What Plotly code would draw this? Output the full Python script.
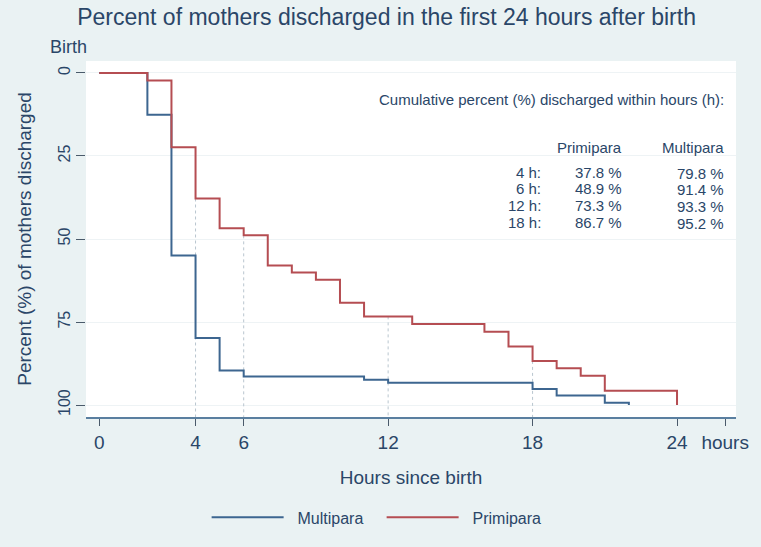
import plotly.graph_objects as go

# ---- data ----
hours_multi = [0, 2, 3, 4, 5, 6, 11, 12, 18, 19, 21, 22]
pct_multi = [0, 12.6, 55.0, 79.8, 89.6, 91.4, 92.4, 93.3, 95.2, 97.1, 99.3, 100]

hours_primi = [0, 2, 3, 4, 5, 6, 7, 8, 9, 10, 11, 13, 16, 17, 18, 19, 20, 21, 24]
pct_primi = [0, 2.3, 22.4, 37.8, 46.8, 48.9, 58.0, 60.1, 62.3, 69.2, 73.3, 75.6,
             77.9, 82.4, 86.7, 88.9, 91.2, 95.7, 100]

table_hours = [4, 6, 12, 18]
table_primi = [37.8, 48.9, 73.3, 86.7]
table_multi = [79.8, 91.4, 93.3, 95.2]

x_tickvals = [0, 4, 6, 12, 18, 24, 26]
x_ticktext = ["0", "4", "6", "12", "18", "24", "hours"]
y_tickvals = [0, 25, 50, 75, 100]

BLUE = "#3d6690"
RED = "#b54d52"
TXT = "#2a4668"
BG = "#eaf2f3"
FONT = "Liberation Sans, Arial, sans-serif"

# plot-area pixel frame
L, R, T, B = 86, 738, 61, 419
W, H = 761, 547

fig = go.Figure()

# dotted reference lines at table hours, from primipara value down to axis
for h, p in zip(table_hours, table_primi):
    fig.add_trace(go.Scatter(x=[h, h], y=[p, 103.6], mode="lines",
                             line=dict(color="#b9c6cf", width=1, dash="dot"),
                             showlegend=False, hoverinfo="skip"))

fig.add_trace(go.Scatter(x=hours_multi, y=pct_multi, mode="lines",
                         name="\u00a0\u00a0Multipara",
                         line=dict(color=BLUE, width=2, shape="hv")))
fig.add_trace(go.Scatter(x=hours_primi, y=pct_primi, mode="lines",
                         name="\u00a0\u00a0Primipara",
                         line=dict(color=RED, width=2, shape="hv")))

TF = dict(size=15, color=TXT, family=FONT)
ann = []
ann.append(dict(x=26.05, y=8.1, text="Cumulative percent (%) discharged within hours (h):",
                xanchor="right", yanchor="middle", showarrow=False, font=TF))
ann.append(dict(x=21.8, y=22.5, text="Primipara", xanchor="right", yanchor="middle",
                showarrow=False, font=TF))
ann.append(dict(x=26.05, y=22.5, text="Multipara", xanchor="right", yanchor="middle",
                showarrow=False, font=TF))
for i, (h, p, m) in enumerate(zip(table_hours, table_primi, table_multi)):
    yy = 29.9 + 5.0 * i
    ann.append(dict(x=18.45, y=yy, text=f"{h} h:", xanchor="right", yanchor="middle",
                    showarrow=False, font=TF))
    ann.append(dict(x=21.8, y=yy, text=f"{p:.1f} %", xanchor="right", yanchor="middle",
                    showarrow=False, font=TF))
    ann.append(dict(x=26.05, y=yy + 0.3, text=f"{m:.1f} %", xanchor="right", yanchor="middle",
                    showarrow=False, font=TF))
ann.append(dict(x=(68 - L) / (R - L), y=1 + (T - 47) / (B - T), xref="paper", yref="paper",
                text="Birth", showarrow=False, xanchor="center", yanchor="middle",
                font=dict(size=18, color=TXT, family=FONT)))

fig.update_layout(
    width=W, height=H,
    margin=dict(l=L, r=W - R, t=T, b=H - B),
    paper_bgcolor=BG, plot_bgcolor="white",
    font=dict(family=FONT, color=TXT, size=15),
    title=dict(text="Percent of mothers discharged in the first 24 hours after birth",
               x=0.508, xanchor="center", y=1 - 17 / H, yanchor="middle",
               font=dict(size=23, color=TXT, family=FONT)),
    showlegend=True,
    legend=dict(orientation="h", x=(207 - L) / (R - L), xanchor="left",
                y=-(520 - B) / (B - T), yanchor="middle", bgcolor="rgba(0,0,0,0)",
                font=dict(size=16, color=TXT, family=FONT),
                itemwidth=72, entrywidth=88, entrywidthmode="pixels",
                traceorder="normal"),
    annotations=ann,
)

fig.update_xaxes(range=[-0.55, 26.45], tickvals=x_tickvals, ticktext=x_ticktext,
                 showgrid=False, zeroline=False, showline=True, linecolor="#5a7fa0",
                 linewidth=1.5, ticks="outside", ticklen=7, tickcolor="#4a5a6a",
                 tickfont=dict(size=19, color=TXT),
                 title=dict(text="Hours since birth", font=dict(size=19, color=TXT), standoff=19))
fig.update_yaxes(range=[103.6, -3.6], tickvals=y_tickvals, tickangle=-90,
                 showgrid=True, gridcolor="#eef3f5", gridwidth=1, zeroline=False,
                 showline=False, ticks="outside", ticklen=9, tickcolor="#4a5a6a",
                 tickfont=dict(size=16, color=TXT),
                 title=dict(text="Percent (%) of mothers discharged",
                            font=dict(size=19, color=TXT), standoff=18))

fig.write_html("out.html", config={"displayModeBar": False},
               post_script="document.body.style.margin='0';document.body.style.padding='0';")
